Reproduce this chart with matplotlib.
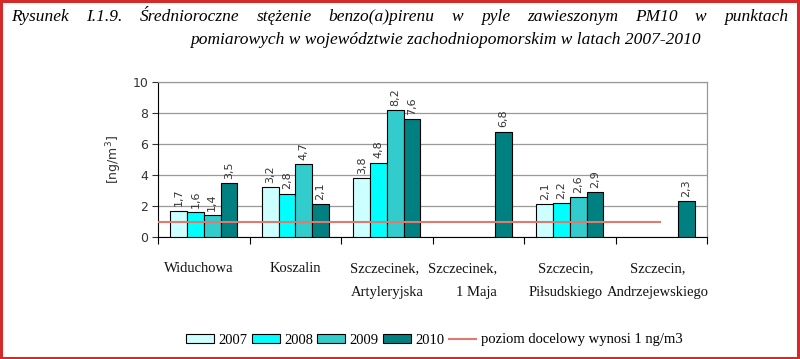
import numpy as np
import matplotlib
matplotlib.use("Agg")
import matplotlib.pyplot as plt
import matplotlib.transforms as mtransforms
from matplotlib.patches import Rectangle
from matplotlib.lines import Line2D

# data
stations = ["Widuchowa", "Koszalin", "Szczecinek,\nArtyleryjska", "Szczecinek,\n1 Maja",
            "Szczecin,\nPiłsudskiego", "Szczecin,\nAndrzejewskiego"]
years = ["2007", "2008", "2009", "2010"]
v2007 = [1.7, 3.2, 3.8, np.nan, 2.1, np.nan]
v2008 = [1.6, 2.8, 4.8, np.nan, 2.2, np.nan]
v2009 = [1.4, 4.7, 8.2, np.nan, 2.6, np.nan]
v2010 = [3.5, 2.1, 7.6, 6.8, 2.9, 2.3]
target = 1.0
target_label = "poziom docelowy wynosi 1 ng/m3"
title1 = "Rysunek I.1.9. Średnioroczne stężenie benzo(a)pirenu w pyle zawieszonym PM10 w punktach"
title2 = "pomiarowych w województwie zachodniopomorskim w latach 2007-2010"

colors = ["#CCFFFF", "#00FFFF", "#33CCCC", "#008080"]
serif = "Liberation Serif"
sans = "DejaVu Sans"

fig = plt.figure(figsize=(8, 3.59), dpi=100, facecolor="white")
ax = fig.add_axes([0.1975, 0.3398, 0.884 - 0.1975, 0.7716 - 0.3398])

x = np.arange(len(stations))
w = 0.183
series = [v2007, v2008, v2009, v2010]
for i, vals in enumerate(series):
    pos = x + (i - 1.5) * w
    ax.bar(pos, vals, width=w, color=colors[i], edgecolor="black", linewidth=0.8, zorder=3)
    for p, v in zip(pos, vals):
        if np.isnan(v):
            continue
        ax.annotate(("%.1f" % v).replace(".", ","), (p, v), xytext=(0, 3), textcoords="offset points",
                    rotation=90, ha="center", va="bottom", fontsize=8, family=sans, color="#333333")

ax.hlines(target, -0.5, len(stations) - 1, color="#E07A6E", linewidth=1.5, zorder=4)

ax.set_xlim(-0.5, len(stations) - 0.5)
ax.set_ylim(0, 10)
ax.set_yticks([0, 2, 4, 6, 8, 10])
ax.yaxis.grid(True, color="#999999", linewidth=0.9, zorder=0)
ax.set_axisbelow(True)
ax.tick_params(axis="y", labelsize=9, colors="#333333", length=4, width=0.8, pad=3)
for lab in ax.get_yticklabels():
    lab.set_family(sans)
ax.set_ylabel("[ng/m$^3$]", fontsize=9, family=sans, color="#333333", labelpad=6)

ax.set_xticks(np.arange(-0.5, len(stations)))
ax.set_xticklabels([])
ax.tick_params(axis="x", length=5, width=0.8, direction="out")
for sp in ["top", "right"]:
    ax.spines[sp].set_color("#999999")
    ax.spines[sp].set_linewidth(0.9)

# category labels
aligns = ["center", "center", "left", "right", "center", "center"]
shifts = [-5, 0, 0, -16, -4, -4]
for i, name in enumerate(stations):
    tr = ax.get_xaxis_transform() + mtransforms.ScaledTranslation(shifts[i] / 100, 0, fig.dpi_scale_trans)
    ax.text(i, -0.16, name, transform=tr, ha="center", va="top", multialignment=aligns[i],
            fontsize=10.5, family=serif, linespacing=2.1, color="#111111")

# legend
handles = [Rectangle((0, 0), 1, 1, facecolor=c, edgecolor="black", linewidth=0.8) for c in colors]
handles.append(Line2D([0], [0], color="#E07A6E", linewidth=1.5))
fig.legend(handles, years + [target_label], loc="center", bbox_to_anchor=(0.543, 1 - 340 / 359),
           ncol=5, frameon=False, prop={"family": serif, "size": 10.5}, handlelength=1.9,
           handleheight=0.6, handletextpad=0.3, columnspacing=0.3)

# title, first line justified between x=11 and x=788 px
renderer = fig.canvas.get_renderer()
words = title1.split()
objs = [fig.text(0, 1 - 17 / 359, wd, ha="left", va="center", fontsize=12.5, family=serif, style="italic")
        for wd in words]
widths = [o.get_window_extent(renderer).width for o in objs]
left, right = 11, 788
gap = (right - left - sum(widths)) / (len(words) - 1)
xpos = left
for o, wdt in zip(objs, widths):
    o.set_x(xpos / 800)
    xpos += wdt + gap
fig.text(445 / 800, 1 - 40 / 359, title2, ha="center", va="center", fontsize=12.5, family=serif, style="italic")

fig.patches.append(Rectangle((0.0015, 0.003), 0.996, 0.994, transform=fig.transFigure, fill=False,
                             edgecolor="#D42A2A", linewidth=2.2))

fig.savefig("out.png", dpi=100, facecolor="white")
